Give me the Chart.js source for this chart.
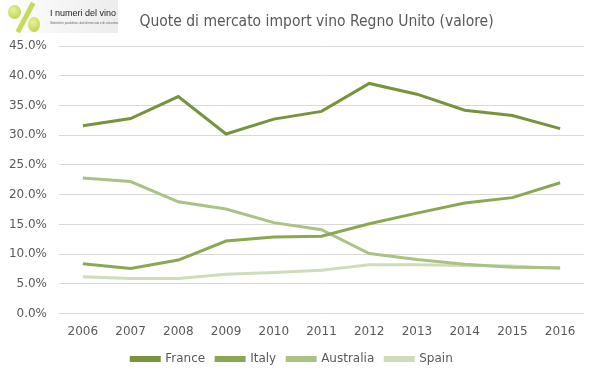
<!DOCTYPE html>
<html>
<head>
<meta charset="utf-8">
<script src="https://cdn.jsdelivr.net/npm/chart.js@4.4.1/dist/chart.umd.min.js"></script>
<style>
  html, body { margin: 0; padding: 0; background: #fff; }
  #wrap { position: relative; width: 599px; height: 378px; }
  #logo { position: absolute; left: 0; top: 0; width: 118px; height: 33px;
          background: linear-gradient(to right, #ffffff, #ececec); }
  #logo .g1 { position: absolute; left: 8px; top: 5px; width: 13px; height: 14px; border-radius: 50%;
              background: radial-gradient(circle at 40% 35%, #e8f29a, #b5cc3c); }
  #logo .g2 { position: absolute; left: 28px; top: 17px; width: 12px; height: 15px; border-radius: 50%;
              background: radial-gradient(circle at 40% 35%, #e8f29a, #b5cc3c); }
  #logo .bar { position: absolute; left: 23px; top: 1px; width: 5px; height: 33px; background: #c8da5a;
               transform: rotate(28deg); }
  #logo .t1 { position: absolute; left: 50px; top: 8px; font: 9px "Liberation Sans Narrow", Arial, sans-serif;
              color: #222; white-space: nowrap; }
  #logo .t2 { position: absolute; left: 50px; top: 21px; font: 3px Arial, sans-serif; color: #666; white-space: nowrap; }
  #title { position: absolute; left: 0; width: 633px; top: 12px; text-align: center;
           font: 15.5px "Liberation Sans Narrow", "DejaVu Sans Condensed", sans-serif; color: #595959; }
</style>
</head>
<body>
<div id="wrap">
  <canvas id="chart" width="599" height="378"></canvas>
  <div id="logo">
    <div class="bar"></div><div class="g1"></div><div class="g2"></div>
    <div class="t1">I numeri del vino</div>
    <div class="t2">Statistiche produttive, dati di mercato e di consumo.</div>
  </div>
  <div id="title">Quote di mercato import vino Regno Unito (valore)</div>
</div>
<script>
  // dati (quota %)
  const years = ["2006", "2007", "2008", "2009", "2010", "2011", "2012", "2013", "2014", "2015", "2016"];
  const france = [31.6, 32.8, 36.5, 30.2, 32.7, 34.0, 38.7, 36.9, 34.2, 33.3, 31.1];
  const italy = [8.4, 7.6, 9.0, 12.2, 12.9, 13.0, 15.1, 16.9, 18.6, 19.5, 22.0];
  const australia = [22.8, 22.2, 18.8, 17.6, 15.3, 14.1, 10.1, 9.1, 8.3, 7.8, 7.7];
  const spain = [6.2, 5.9, 5.9, 6.6, 6.9, 7.3, 8.2, 8.2, 8.1, 8.0, 7.6];

  function serie(label, data, color) {
    return {
      label: label, data: data,
      borderColor: color, backgroundColor: color,
      borderWidth: 3, pointRadius: 0, tension: 0,
    };
  }

  new Chart(document.getElementById("chart"), {
    type: "line",
    data: {
      labels: years,
      datasets: [
        serie("France", france, "#77933c"),
        serie("Italy", italy, "#8aa852"),
        serie("Australia", australia, "#abc285"),
        serie("Spain", spain, "#cfdcb9"),
      ],
    },
    options: {
      responsive: false,
      animation: false,
      layout: { padding: { top: 46, right: 15, left: 0, bottom: 3 } },
      plugins: {
        title: { display: false },
        tooltip: { enabled: false },
        legend: {
          position: "bottom",
          labels: {
            boxWidth: 28, boxHeight: 3, padding: 11,
            color: "#595959",
            font: { family: "DejaVu Sans", size: 12 },
          },
        },
      },
      scales: {
        x: {
          offset: true,
          grid: { display: false },
          border: { display: false },
          ticks: { color: "#595959", font: { family: "DejaVu Sans", size: 12 }, padding: 3, maxRotation: 0 },
        },
        y: {
          min: 0, max: 45,
          afterFit: function (s) { s.width = 59; },
          grid: { color: "#d9d9d9", drawTicks: false },
          border: { display: false },
          ticks: {
            stepSize: 5, padding: 12,
            color: "#595959", font: { family: "DejaVu Sans", size: 12 },
            callback: function (v) { return v.toFixed(1) + "%"; },
          },
        },
      },
    },
  });
</script>
</body>
</html>
